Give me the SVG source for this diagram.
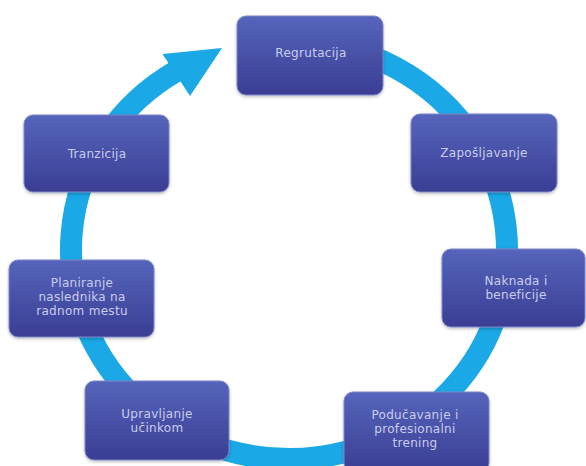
<svg xmlns="http://www.w3.org/2000/svg" width="586" height="466" viewBox="0 0 586 466">
<defs>
<linearGradient id="boxg" x1="0" y1="0" x2="0" y2="1">
<stop offset="0" stop-color="#5664bb"/>
<stop offset="1" stop-color="#3a3e94"/>
</linearGradient>
<filter id="sh" x="-10%" y="-10%" width="120%" height="130%">
<feDropShadow dx="0" dy="1.5" stdDeviation="1.5" flood-color="#000" flood-opacity="0.25"/>
</filter>
</defs>
<style>
.box{fill:url(#boxg);stroke:#7d86c8;stroke-width:1;filter:url(#sh)}
.lbl{font-family:"DejaVu Sans","Liberation Sans",sans-serif;font-size:12px;letter-spacing:0.3px;fill:#c9cdec;text-anchor:middle}
.ring{fill:none;stroke:#1aa8e6;stroke-width:22}
</style>
<rect width="586" height="466" fill="#ffffff"/>
<g id="connectors">
<path class="ring" d="M 289 41 A 218 209 0 1 1 176.1 71.2"/>
<polygon points="162.5,54 222,48 190,96" fill="#1aa8e6"/>
</g>
<g id="regrutacija">
<rect class="box" x="237" y="16" width="146" height="79" rx="9"/>
<text class="lbl" x="311" y="57">Regrutacija</text>
</g>
<g id="zaposljavanje">
<rect class="box" x="411" y="114" width="146" height="78" rx="9"/>
<text class="lbl" x="484" y="157">Zapošljavanje</text>
</g>
<g id="naknada">
<rect class="box" x="442" y="249" width="143" height="78" rx="9"/>
<text class="lbl" x="516" y="285">Naknada i</text>
<text class="lbl" x="516" y="299">beneficije</text>
</g>
<g id="poducavanje">
<rect class="box" x="344" y="392" width="145" height="80" rx="9"/>
<text class="lbl" x="415" y="419">Podučavanje i</text>
<text class="lbl" x="415" y="433">profesionalni</text>
<text class="lbl" x="415" y="447">trening</text>
</g>
<g id="upravljanje">
<rect class="box" x="85" y="381" width="144" height="79" rx="9"/>
<text class="lbl" x="157" y="418">Upravljanje</text>
<text class="lbl" x="157" y="432">učinkom</text>
</g>
<g id="planiranje">
<rect class="box" x="9" y="260" width="145" height="77" rx="9"/>
<text class="lbl" x="82" y="287">Planiranje</text>
<text class="lbl" x="82" y="301">naslednika na</text>
<text class="lbl" x="82" y="315">radnom mestu</text>
</g>
<g id="tranzicija">
<rect class="box" x="24" y="115" width="145" height="77" rx="9"/>
<text class="lbl" x="97" y="158">Tranzicija</text>
</g>
</svg>
